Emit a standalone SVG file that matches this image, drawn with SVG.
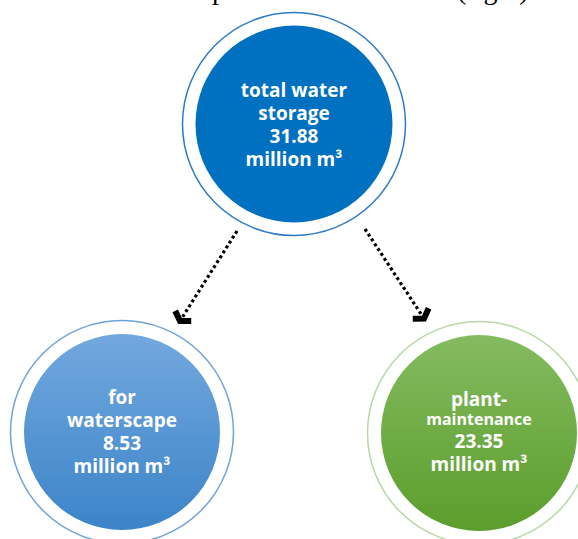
<svg xmlns="http://www.w3.org/2000/svg" width="578" height="539" viewBox="0 0 578 539">
  <style>
    .lbl { font-family: "Open Sans", "Noto Sans", "DejaVu Sans", sans-serif; font-weight: bold; fill: #ffffff; text-anchor: middle; font-size: 19px; }
    .small { font-size: 16px; }
    .cap { font-family: "Liberation Serif", "Times New Roman", serif; font-size: 28px; fill: #000000; }
    .ring { fill: none; stroke-width: 1.5; }
    .conn { fill: none; stroke: #000000; stroke-width: 3.2; stroke-dasharray: 3 2.8; }
  </style>
  <defs>
    <linearGradient id="gBlue" x1="0" y1="0" x2="0" y2="1">
      <stop offset="0" stop-color="#73A8DF"/>
      <stop offset="1" stop-color="#3C84C8"/>
    </linearGradient>
    <linearGradient id="gGreen" x1="0" y1="0" x2="0" y2="1">
      <stop offset="0" stop-color="#84BB60"/>
      <stop offset="1" stop-color="#5C9D2C"/>
    </linearGradient>
    <marker id="chev" markerUnits="userSpaceOnUse" markerWidth="28" markerHeight="28" refX="0" refY="0" viewBox="-14 -14 28 28" orient="auto" overflow="visible">
      <path d="M -6 -9.5 L 0 0 L -6 9.5" fill="none" stroke="#000000" stroke-width="6" stroke-linejoin="miter" stroke-miterlimit="10"/>
    </marker>
  </defs>

  <g id="caption">
    <text class="cap" x="212" y="-1">p</text>
    <text class="cap" x="457" y="-1">(right)</text>
  </g>

  <g id="connectors">
    <line class="conn" x1="237" y1="231" x2="180" y2="321" marker-end="url(#chev)"/>
    <line class="conn" x1="365" y1="229" x2="424" y2="318.5" marker-end="url(#chev)"/>
  </g>

  <g id="node-total">
    <circle class="ring" cx="294" cy="124" r="111.5" stroke="#2B7BC6"/>
    <circle cx="294" cy="124" r="98.5" fill="#0070C0"/>
    <text class="lbl" x="294" y="96.5">total water<tspan x="294" y="119.5">storage</tspan><tspan x="294" y="142.5">31.88</tspan><tspan x="294" y="165.5">million m³</tspan></text>
  </g>

  <g id="node-waterscape">
    <circle class="ring" cx="122" cy="432" r="111.5" stroke="#6EA3DA"/>
    <circle cx="122" cy="432" r="98" fill="url(#gBlue)"/>
    <text class="lbl" x="122" y="403.5">for<tspan x="122" y="426.5">waterscape</tspan><tspan x="122" y="449.5">8.53</tspan><tspan x="122" y="472.5">million m³</tspan></text>
  </g>

  <g id="node-plant">
    <circle class="ring" cx="479" cy="433" r="111.5" stroke="#B7D7A3"/>
    <circle cx="479" cy="433" r="98" fill="url(#gGreen)"/>
    <text class="lbl" x="479" y="406">plant-<tspan class="small" x="479" y="424.5">maintenance</tspan><tspan x="479" y="447.5">23.35</tspan><tspan x="479" y="470.5">million m³</tspan></text>
  </g>
</svg>
